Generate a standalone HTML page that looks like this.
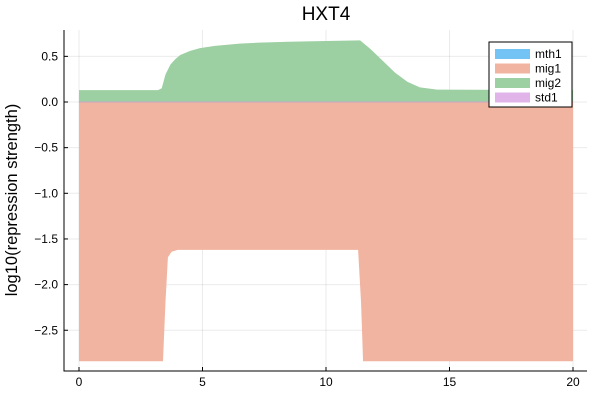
<!DOCTYPE html>
<html><head><meta charset="utf-8"><style>body{margin:0;background:#fff}svg{font-family:"Liberation Sans","DejaVu Sans",sans-serif}</style></head>
<body>
<svg id="chart" width="600" height="400" xmlns="http://www.w3.org/2000/svg"></svg>
<script>
const xTicks=[0,5,10,15,20];
const yTicks=[0.5,0,-0.5,-1,-1.5,-2,-2.5];
const yTickLabels=["0.5","0.0","−0.5","−1.0","−1.5","−2.0","−2.5"];
const mig2X=[0,3.2,3.35,3.5,3.7,3.9,4.1,4.5,4.9,5.5,6.5,7.3,8.5,10,11.38,11.8,12.3,12.8,13.3,13.8,14.5,20];
const mig2Y=[0.13,0.13,0.15,0.3,0.41,0.47,0.515,0.56,0.59,0.615,0.64,0.65,0.66,0.668,0.675,0.58,0.45,0.32,0.22,0.16,0.135,0.13];
const mig1X=[0,3.4,3.5,3.6,3.75,4,7,11.3,11.42,11.5,20];
const mig1Y=[-2.84,-2.84,-2.2,-1.7,-1.64,-1.62,-1.62,-1.62,-2.2,-2.84,-2.84];
const legendNames=["mth1","mig1","mig2","std1"];
const legendColors=["#74c3f5","#f1b4a0","#9ccfa2","#e0b4e8"];
const NS="http://www.w3.org/2000/svg";
const svg=document.getElementById('chart');
const X=v=>79+v*24.7, Y=v=>102-v*91.3;
function mk(t,a,p){const e=document.createElementNS(NS,t);for(const k in a)e.setAttribute(k,a[k]);(p||svg).appendChild(e);return e;}
xTicks.forEach(t=>{const l=mk('line',{x1:X(t),x2:X(t),y1:30,y2:371,stroke:'#000','stroke-opacity':0.08});

});
yTicks.forEach(t=>{const l=mk('line',{x1:64,x2:587,y1:Y(t),y2:Y(t),stroke:'#000','stroke-opacity':0.08});

});
let d='M'+X(0)+','+Y(0)+' L'+X(20)+','+Y(0);
for(let i=mig1X.length-1;i>=0;i--)d+=' L'+X(mig1X[i])+','+Y(mig1Y[i]);
const a1=mk('path',{d:d+'Z',fill:'#f1b4a0'});


d='M'+X(0)+','+Y(0);
mig2X.forEach((x,i)=>d+=' L'+X(x)+','+Y(mig2Y[i]));
d+=' L'+X(20)+','+Y(0)+'Z';
const a2=mk('path',{d:d,fill:'#9ccfa2'});


mk('line',{x1:X(0),x2:X(20),y1:Y(0),y2:Y(0),stroke:'#c9a6c9','stroke-width':1});
const ax=mk('path',{d:'M64,30 L64,371 L587,371',fill:'none',stroke:'#000','stroke-width':1});


xTicks.forEach(t=>{mk('line',{x1:X(t),x2:X(t),y1:371,y2:367,stroke:'#000'});
const tx=mk('text',{x:X(t),y:386,'font-size':12,'text-anchor':'middle'});tx.textContent=t;

});
yTicks.forEach((t,i)=>{mk('line',{x1:64,x2:68,y1:Y(t),y2:Y(t),stroke:'#000'});
const tx=mk('text',{x:58,y:Y(t)+4,'font-size':12,'text-anchor':'end'});tx.textContent=yTickLabels[i];

});
const tt=mk('text',{x:326,y:20,'font-size':19,'text-anchor':'middle'});tt.textContent='HXT4';


const yl=mk('text',{x:0,y:0,'font-size':16.5,'text-anchor':'middle',transform:'translate(17,200) rotate(-90)'});yl.textContent='log10(repression strength)';


const lg=mk('g',{});


mk('rect',{x:489,y:42,width:83,height:65,fill:'#fff',stroke:'#000','stroke-width':1},lg);
legendNames.forEach((n,i)=>{const g=mk('g',{},lg);


mk('rect',{x:495,y:49+i*14.5,width:35,height:10,fill:legendColors[i]},g);
const t=mk('text',{x:535,y:58+i*14.5,'font-size':12},g);t.textContent=n;});
</script>
</body></html>
